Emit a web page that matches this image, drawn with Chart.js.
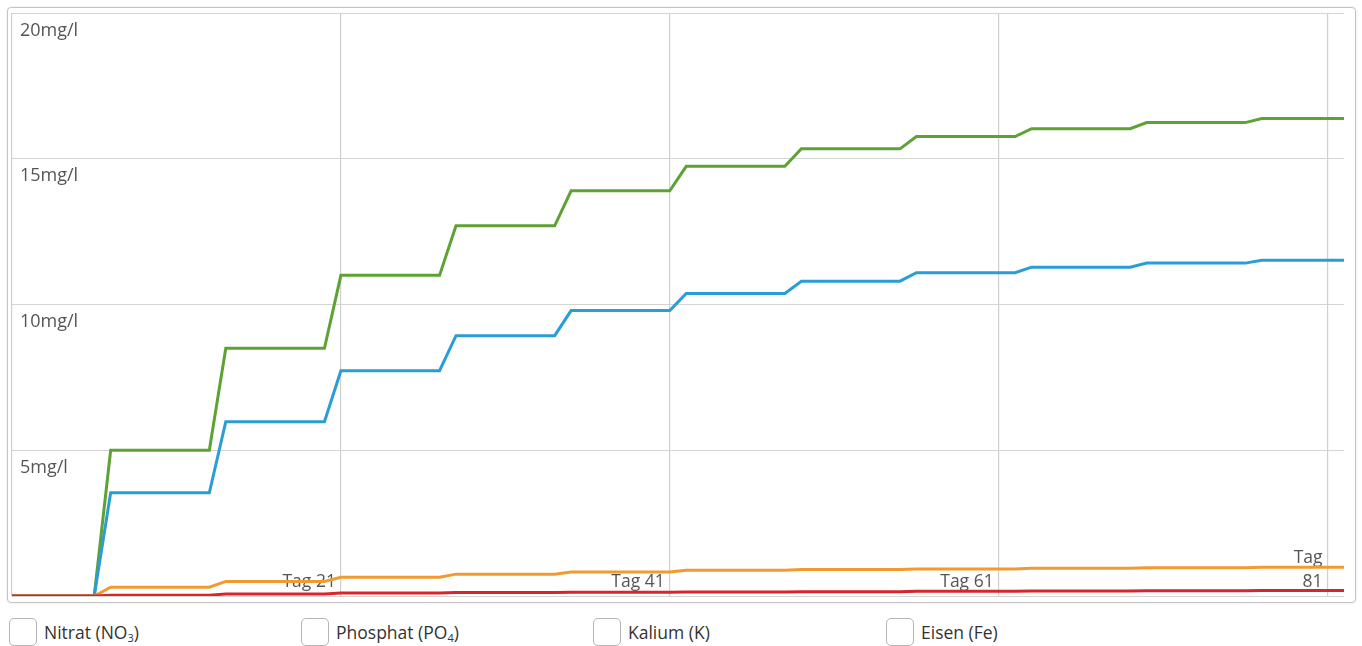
<!DOCTYPE html>
<html>
<head>
<meta charset="utf-8">
<title>Nährstoffverlauf</title>
<script src="https://cdn.jsdelivr.net/npm/chart.js@4"></script>
<style>
  body { margin: 0; background: #fff; font-family: 'Open Sans', sans-serif; }
  .box {
    position: absolute; left: 7px; top: 7px; width: 1349px; height: 596px;
    box-sizing: border-box; border: 1px solid #c4c4c4; border-radius: 4px;
    box-shadow: 0 0 2px rgba(0,0,0,0.15);
  }
  .chart-wrap { position: absolute; left: 0; top: 0; width: 1362px; height: 605px; }
  .legend { position: absolute; left: 0; top: 618px; width: 1362px; height: 28px; }
  .legend label {
    position: absolute; top: 0; height: 28px; line-height: 28px;
    font-size: 17.5px; color: #333; white-space: nowrap;
  }
  .legend .chk {
    display: inline-block; vertical-align: top; width: 26px; height: 26px;
    border: 1px solid #b5b5b5; border-radius: 5px; margin-right: 7px; background: #fff;
  }
  .legend sub { font-size: 11px; vertical-align: -3px; line-height: 0; }
</style>
</head>
<body>
<div class="box"></div>
<div class="chart-wrap"><canvas id="naehrChart"></canvas></div>
<div class="legend" id="legend"></div>
<script>
// Tage, an denen sich die Kurven knicken (Dosierung alle 7 Tage)
var days = [1, 6, 7, 13, 14, 20, 21, 27, 28, 34, 35, 41, 42, 48, 49, 55, 56, 62, 63, 69, 70, 76, 77, 82];

// mg/l je Knickpunkt
var nitrat   = [0, 0, 5, 5, 8.5, 8.5, 11, 11, 12.7, 12.7, 13.9, 13.9, 14.74, 14.74, 15.34, 15.34, 15.76, 15.76, 16.03, 16.03, 16.24, 16.24, 16.38, 16.38];
var phosphat = [0, 0, 3.54, 3.54, 5.98, 5.98, 7.73, 7.73, 8.93, 8.93, 9.79, 9.79, 10.38, 10.38, 10.8, 10.8, 11.09, 11.09, 11.28, 11.28, 11.42, 11.42, 11.52, 11.52];
var kalium   = [0, 0, 0.3, 0.3, 0.5, 0.5, 0.64, 0.64, 0.75, 0.75, 0.82, 0.82, 0.88, 0.88, 0.91, 0.91, 0.93, 0.93, 0.95, 0.95, 0.97, 0.97, 0.99, 0.99];
var eisen    = [0, 0, 0.03, 0.03, 0.07, 0.07, 0.1, 0.1, 0.12, 0.12, 0.13, 0.13, 0.14, 0.14, 0.15, 0.15, 0.16, 0.16, 0.17, 0.17, 0.18, 0.18, 0.19, 0.19];

var seriesLabels = ['Nitrat (NO<sub>3</sub>)', 'Phosphat (PO<sub>4</sub>)', 'Kalium (K)', 'Eisen (Fe)'];

// Achsenbeschriftung (alle zweizeilig, damit die letzte Zeile unten bündig steht)
var tickDays   = [1, 21, 41, 61, 81];
var tickLabels = [['', ''], ['', 'Tag 21'], ['', 'Tag 41'], ['', 'Tag 61'], ['Tag', '81']];
var yTicks     = [0, 5, 10, 15, 20];
var yLabels    = ['', '5mg/l', '10mg/l', '15mg/l', '20mg/l'];

var colors = ['#5da233', '#2a9dd8', '#f29a30', '#d7262b'];

function toPoints(values) {
    return values.map((v, i) => ({ x: days[i], y: v }));
}

Chart.defaults.font.family = "'Open Sans', sans-serif";

var series = [nitrat, phosphat, kalium, eisen];
var datasets = series.map((vals, i) => ({
    label: seriesLabels[i].replace(/<[^>]+>/g, ''),
    data: toPoints(vals),
    borderColor: colors[i],
    backgroundColor: colors[i],
    borderWidth: 3,
    pointRadius: 0,
    tension: 0,
    order: series.length - i   // Eisen oben
}));

var ctx = document.getElementById('naehrChart').getContext('2d');
var chart = new Chart(ctx, {
    type: 'line',
    data: { datasets: datasets },
    options: {
        responsive: true,
        maintainAspectRatio: false,
        animation: false,
        layout: { padding: { left: 12, top: 13, right: 18, bottom: 9 } },
        plugins: { legend: { display: false }, tooltip: { enabled: false } },
        scales: {
            x: {
                type: 'linear',
                min: 1,
                max: 82,
                border: { display: false },
                grid: { color: '#cfcfcf', lineWidth: 1.2, drawTicks: false },
                afterBuildTicks: function (scale) {
                    scale.ticks = tickDays.map(d => ({ value: d }));
                },
                afterFit: function (scale) {
                    scale.height = 0;
                    scale.paddingLeft = scale.paddingRight = 0;
                },
                ticks: {
                    mirror: true,   // Labels innerhalb der Zeichenfläche
                    autoSkip: false,
                    maxRotation: 0,
                    align: 'end',
                    crossAlign: 'far',
                    padding: 38,
                    labelOffset: -5,
                    color: '#555',
                    font: { size: 17.5, lineHeight: 1.4 },
                    textStrokeColor: '#fff',
                    textStrokeWidth: 4,
                    callback: function (value) {
                        return tickLabels[tickDays.indexOf(value)];
                    }
                }
            },
            y: {
                min: 0,
                max: 20,
                border: { display: false },
                grid: { color: '#d4d4d4', lineWidth: 1, drawTicks: false },
                afterBuildTicks: function (scale) {
                    scale.ticks = yTicks.map(v => ({ value: v }));
                },
                afterFit: function (scale) {
                    scale.width = 0;
                    scale.paddingTop = scale.paddingBottom = 0;
                },
                ticks: {
                    mirror: true,
                    padding: 8,
                    labelOffset: 17.5,
                    color: '#555',
                    font: { size: 18 },
                    callback: function (value) {
                        return yLabels[yTicks.indexOf(value)];
                    }
                }
            }
        }
    }
});

// HTML-Legende mit Kästchen
var legendEl = document.getElementById('legend');
var legendX = [9, 301, 593, 886];
seriesLabels.forEach(function (text, i) {
    var item = document.createElement('label');
    item.style.left = legendX[i] + 'px';
    item.innerHTML = '<span class="chk"></span>' + text;
    legendEl.appendChild(item);
});
</script>
</body>
</html>
